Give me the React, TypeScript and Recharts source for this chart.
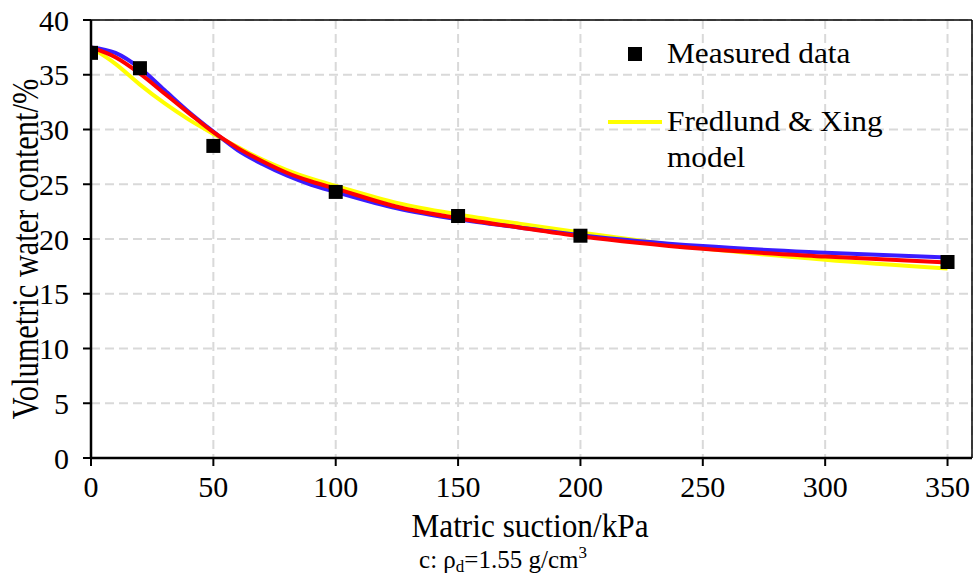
import React from 'react';
import {
  ComposedChart,
  Line,
  Scatter,
  XAxis,
  YAxis,
  CartesianGrid,
  ReferenceLine,
} from 'recharts';

const FONT = "'Liberation Serif', 'Times New Roman', 'DejaVu Serif', serif";

// measured points
const measuredX = [0, 20, 50, 100, 150, 200, 350];
const measuredY = [37, 35.6, 28.5, 24.3, 22.1, 20.3, 17.9];

// fitted curves
const curveX = [0, 10, 20, 30, 40, 50, 60, 70, 80, 90, 100, 125, 150, 175, 200, 250, 300, 350];
const fredlundXing = [37.5, 36.0, 34.1, 32.4, 30.9, 29.6, 28.4, 27.25, 26.3, 25.5, 24.85, 23.3, 22.25, 21.4, 20.6, 19.15, 18.1, 17.3];
const blueFit = [37.5, 37.0, 35.6, 33.6, 31.6, 29.8, 28.1, 26.85, 25.8, 24.95, 24.3, 22.8, 21.8, 21.05, 20.35, 19.35, 18.75, 18.3];
const redFit = [37.5, 36.6, 35.1, 33.3, 31.5, 29.75, 28.3, 27.1, 26.05, 25.25, 24.6, 22.95, 21.9, 21.05, 20.25, 19.1, 18.4, 17.85];

const xTicks = [0, 50, 100, 150, 200, 250, 300, 350];
const yTicks = [0, 5, 10, 15, 20, 25, 30, 35, 40];

const measured = measuredX.map((x, i) => ({ x, y: measuredY[i] }));
const toSeries = (vals: number[]) => curveX.map((x, i) => ({ x, y: vals[i] }));

const Square = (props: any) => {
  const { cx, cy } = props;
  if (cx == null || cy == null) return null;
  return <rect x={cx - 7} y={cy - 7} width={14} height={14} fill="#000" />;
};

const tickStyle = { fontSize: 30, fill: '#000', fontFamily: FONT, style: { fontFamily: FONT } };
const txt = { fill: '#000', style: { fontFamily: FONT } };

const App: React.FC = () => {
  return (
    <div style={{ position: 'absolute', left: 0, top: 0, width: 976, height: 577, background: '#fff', fontFamily: FONT }}>
      <ComposedChart width={976} height={577} margin={{ top: 20, right: 4, bottom: 0, left: 0 }}>
        <CartesianGrid stroke="#d9d9d9" strokeWidth={2} strokeDasharray="9 5" />
        <XAxis
          type="number"
          dataKey="x"
          domain={[0, 360]}
          ticks={xTicks}
          allowDataOverflow
          height={119}
          tickSize={8}
          tickMargin={10}
          axisLine={{ stroke: '#000', strokeWidth: 2.5 }}
          tickLine={{ stroke: '#000', strokeWidth: 2 }}
          tick={tickStyle}
        />
        <YAxis
          type="number"
          dataKey="y"
          domain={[0, 40]}
          ticks={yTicks}
          allowDataOverflow
          width={91}
          tickSize={8}
          tickMargin={14}
          axisLine={{ stroke: '#000', strokeWidth: 2.5 }}
          tickLine={{ stroke: '#000', strokeWidth: 2 }}
          tick={tickStyle}
        />
        <ReferenceLine y={40} stroke="#000" strokeWidth={1.5} />
        <ReferenceLine x={360} stroke="#000" strokeWidth={1.5} />
        <Scatter data={measured} dataKey="y" shape={<Square />} isAnimationActive={false} />
        <Line data={toSeries(fredlundXing)} dataKey="y" type="monotone" stroke="#ffff00" strokeWidth={4} dot={false} isAnimationActive={false} />
        <Line data={toSeries(blueFit)} dataKey="y" type="monotone" stroke="#3a1cff" strokeWidth={4} dot={false} isAnimationActive={false} />
        <Line data={toSeries(redFit)} dataKey="y" type="monotone" stroke="#ff0000" strokeWidth={4} dot={false} isAnimationActive={false} />
      </ComposedChart>

      <svg width={976} height={577} style={{ position: 'absolute', left: 0, top: 0, pointerEvents: 'none' }}>
        {/* legend */}
        <rect x={628} y={47} width={14} height={14} fill="#000" />
        <g transform="translate(667 0) scale(1.08 1)">
          <text x={0} y={63} fontSize={29} {...txt}>Measured data</text>
          <text x={0} y={131} fontSize={29} {...txt}>Fredlund &amp; Xing</text>
          <text x={0} y={167} fontSize={29} {...txt}>model</text>
        </g>
        <line x1={608} y1={122} x2={662} y2={122} stroke="#ffff00" strokeWidth={4} />

        {/* axis titles */}
        <text
          fontSize={38}
          {...txt}
          textAnchor="middle"
          dominantBaseline="central"
          transform="translate(25 249) rotate(-90) scale(0.8 1)"
        >
          Volumetric water content/%
        </text>
        <text fontSize={34} {...txt} textAnchor="middle" transform="translate(530 537) scale(0.92 1)">
          Matric suction/kPa
        </text>

        {/* caption */}
        <text x={503} y={568} fontSize={25} {...txt} textAnchor="middle">
          c: ρ<tspan fontSize={17} dy={4}>d</tspan>
          <tspan dy={-4}>=1.55 g/cm</tspan>
          <tspan fontSize={17} dy={-10}>3</tspan>
        </text>
      </svg>
    </div>
  );
};

export default App;
